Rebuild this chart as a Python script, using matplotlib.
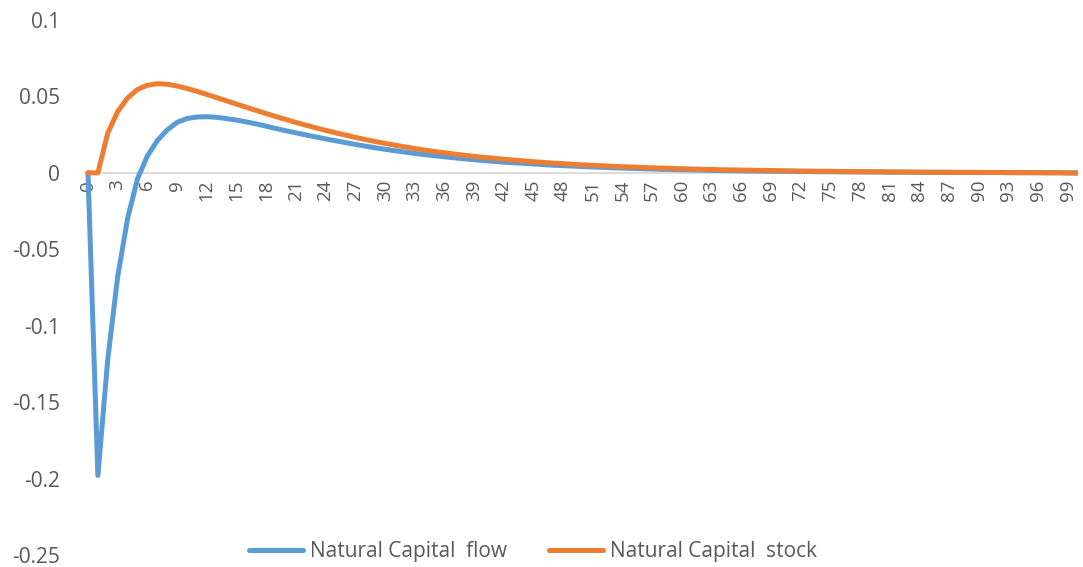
import matplotlib.pyplot as plt
import numpy as np

# periods 0..100
periods = list(range(101))

flow = [0, -0.198, -0.122, -0.068, -0.030, -0.004, 0.011, 0.021, 0.028, 0.033,
        0.0355, 0.0365, 0.0367, 0.0363, 0.0355, 0.0345, 0.0333, 0.0320, 0.0305, 0.0290,
        0.0275, 0.0262, 0.0248, 0.0235, 0.0222, 0.0210, 0.0198, 0.0186, 0.0175, 0.0164,
        0.0154, 0.0145, 0.0136, 0.0127, 0.0119, 0.0112, 0.0105, 0.0098, 0.0092, 0.0086,
        0.0080, 0.0075, 0.0070, 0.0066, 0.0062, 0.0058, 0.0054, 0.0050, 0.0047, 0.0044,
        0.0041, 0.0038, 0.0036, 0.0033, 0.0031, 0.0029, 0.0027, 0.0025, 0.0023, 0.0022,
        0.0020, 0.0019, 0.0018, 0.0016, 0.0015, 0.0014, 0.0013, 0.0012, 0.0011, 0.0010,
        0.0010, 0.0009, 0.0008, 0.0008, 0.0007, 0.0007, 0.0006, 0.0006, 0.0005, 0.0005,
        0.0005, 0.0004, 0.0004, 0.0004, 0.0003, 0.0003, 0.0003, 0.0003, 0.0002, 0.0002,
        0.0002, 0.0002, 0.0002, 0.0001, 0.0001, 0.0001, 0.0001, 0.0001, 0.0001, 0.0000,
        0.0000]

stock = [0, 0, 0.026, 0.040, 0.049, 0.0545, 0.0573, 0.0583, 0.0580, 0.0568,
         0.0552, 0.0533, 0.0513, 0.0492, 0.0471, 0.0450, 0.0429, 0.0408, 0.0388, 0.0368,
         0.0349, 0.0330, 0.0312, 0.0295, 0.0278, 0.0262, 0.0247, 0.0232, 0.0218, 0.0205,
         0.0193, 0.0181, 0.0170, 0.0159, 0.0149, 0.0140, 0.0131, 0.0123, 0.0115, 0.0108,
         0.0101, 0.0095, 0.0089, 0.0083, 0.0078, 0.0073, 0.0068, 0.0064, 0.0060, 0.0056,
         0.0052, 0.0049, 0.0046, 0.0043, 0.0040, 0.0038, 0.0035, 0.0033, 0.0031, 0.0029,
         0.0027, 0.0025, 0.0023, 0.0022, 0.0020, 0.0019, 0.0018, 0.0017, 0.0016, 0.0015,
         0.0014, 0.0013, 0.0012, 0.0011, 0.0010, 0.0010, 0.0009, 0.0008, 0.0008, 0.0007,
         0.0007, 0.0006, 0.0006, 0.0005, 0.0005, 0.0004, 0.0004, 0.0004, 0.0003, 0.0003,
         0.0003, 0.0002, 0.0002, 0.0002, 0.0001, 0.0001, 0.0001, 0.0000, 0.0000, -0.0001,
         -0.0002]

y_ticks = [0.1, 0.05, 0, -0.05, -0.1, -0.15, -0.2, -0.25]
y_labels = ["0.1", "0.05", "0", "-0.05", "-0.1", "-0.15", "-0.2", "-0.25"]

plt.rcParams['font.family'] = ['Open Sans', 'DejaVu Sans']

fig = plt.figure(figsize=(10.83, 5.67), dpi=100)
ax = fig.add_axes([0.0785, 0.0212, 0.9169, 0.9436])

ax.plot(periods, flow, color='#5B9BD5', lw=3.6, solid_capstyle='round',
        label='Natural Capital  flow')
ax.plot(periods, stock, color='#ED7D31', lw=3.6, solid_capstyle='round',
        label='Natural Capital  stock')

ax.set_ylim(-0.25, 0.1)
ax.set_xlim(-0.3, 100.05)
ax.set_yticks(y_ticks)
ax.set_yticklabels(y_labels)
ax.set_xticks(periods[::3])
ax.set_xticklabels([str(p) for p in periods[::3]])

for s in ['top', 'right', 'left']:
    ax.spines[s].set_visible(False)
ax.spines['bottom'].set_position(('data', 0))
ax.spines['bottom'].set_color('#D9D9D9')
ax.spines['bottom'].set_linewidth(1.3)
ax.spines['bottom'].set_zorder(0)

ax.tick_params(axis='both', length=0, labelcolor='#595959')
ax.tick_params(axis='y', pad=18, labelsize=15)
ax.tick_params(axis='x', pad=5, labelrotation=90, labelsize=13.5)

fig.legend(loc='lower center', bbox_to_anchor=(0.492, -0.025), ncol=2, frameon=False,
           fontsize=15, handlelength=2.6, handletextpad=0.35, columnspacing=2.0,
           labelcolor='#595959')

fig.savefig('out.png', dpi=100)
